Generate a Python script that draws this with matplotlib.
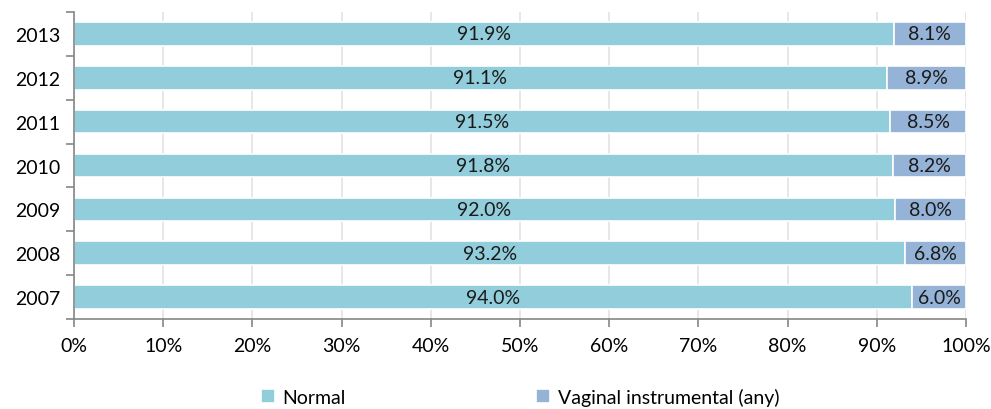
import numpy as np
import matplotlib.pyplot as plt
from matplotlib.ticker import FixedLocator, PercentFormatter

years = ["2007", "2008", "2009", "2010", "2011", "2012", "2013"]
normal = [94.0, 93.2, 92.0, 91.8, 91.5, 91.1, 91.9]
instrumental = [6.0, 6.8, 8.0, 8.2, 8.5, 8.9, 8.1]

c_normal = "#92CDDC"
c_instr = "#95B3D7"
grey = "#868686"

plt.rcParams["font.family"] = ["Lato", "DejaVu Sans"]

fig = plt.figure(figsize=(9.91, 4.10), dpi=100)
ax = fig.add_axes([74 / 991, 1 - 320 / 410, (966 - 74) / 991, (320 - 13) / 410])

y = np.arange(len(years))
b1 = ax.barh(y, normal, height=0.54, color=c_normal, edgecolor="white", linewidth=1.2,
             label="Normal", zorder=2)
b2 = ax.barh(y, instrumental, left=normal, height=0.54, color=c_instr, edgecolor="white",
             linewidth=1.2, label="Vaginal instrumental (any)", zorder=2)

for i in range(len(years)):
    ax.text(normal[i] / 2, y[i], f"{normal[i]:.1f}%", ha="center", va="center",
            fontsize=14, color="#1a1a1a", zorder=3)
    ax.text(normal[i] + instrumental[i] / 2, y[i], f"{instrumental[i]:.1f}%", ha="center",
            va="center", fontsize=14, color="#1a1a1a", zorder=3)

ax.set_xlim(0, 100)
ax.set_ylim(-0.5, len(years) - 0.5)
ax.set_xticks(np.arange(0, 101, 10))
ax.xaxis.set_major_formatter(PercentFormatter(decimals=0))
ax.grid(axis="x", color="#E3E3E3", linewidth=1.2, zorder=0)

ax.yaxis.set_major_locator(FixedLocator(np.arange(-0.5, len(years), 1)))
ax.yaxis.set_major_formatter(plt.NullFormatter())
ax.yaxis.set_minor_locator(FixedLocator(y))
ax.set_yticklabels(years, minor=True)
ax.tick_params(axis="y", which="minor", length=0, pad=10, labelsize=14)
ax.tick_params(axis="y", which="major", length=6, color=grey, width=1.2)
ax.tick_params(axis="x", length=6, color=grey, width=1.2, labelsize=14, pad=7)

for s in ["top", "right"]:
    ax.spines[s].set_visible(False)
for s in ["left", "bottom"]:
    ax.spines[s].set_color(grey)
    ax.spines[s].set_linewidth(1.2)

fig.legend(handles=[b1, b2], loc="center", bbox_to_anchor=(520 / 991, 1 - 398 / 410), ncol=2,
           frameon=False, fontsize=14, handlelength=0.7, handleheight=0.7,
           handletextpad=0.4, columnspacing=9.8)

fig.savefig("out.png", dpi=100)
